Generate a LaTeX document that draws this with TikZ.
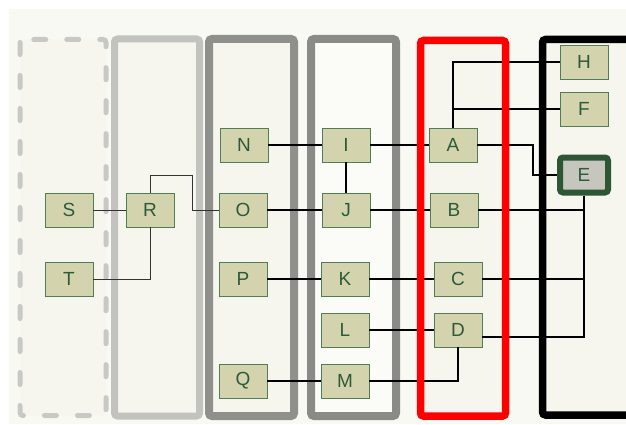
\documentclass[tikz,border=0pt]{standalone}
\usepackage{fontspec}
\setmainfont{Liberation Sans}
\usetikzlibrary{positioning,calc}
\definecolor{pageBg}{RGB}{249,249,244}
\definecolor{laneBg}{RGB}{246,245,238}
\definecolor{laneWhite}{RGB}{251,251,248}
\definecolor{laneA}{RGB}{200,200,196}
\definecolor{laneB}{RGB}{194,194,190}
\definecolor{laneC}{RGB}{143,143,139}
\definecolor{laneD}{RGB}{138,138,134}
\definecolor{boxFill}{RGB}{211,211,174}
\definecolor{boxLine}{RGB}{80,125,86}
\definecolor{boxText}{RGB}{46,90,58}
\definecolor{hubFill}{RGB}{198,198,190}
\definecolor{hubLine}{RGB}{44,86,52}
\tikzset{
  box/.style={draw=boxLine, fill=boxFill, line width=0.9pt, text=boxText,
    minimum width=48pt, minimum height=34pt, inner sep=0pt,
    font=\fontsize{19}{22}\selectfont},
  hub/.style={box, draw=hubLine, fill=hubFill, line width=6pt, rounded corners=3pt,
    minimum width=48pt, minimum height=35pt},
  thinwire/.style={line width=1pt, draw=black!80},
  wire/.style={line width=2.2pt, draw=black},
  lane/.style={fill=laneBg, rounded corners=3pt}
}

\begin{document}
\begin{tikzpicture}[x=1pt,y=-1pt]
    \useasboundingbox (0,0) rectangle (626,425);
    \fill[pageBg] (9,9) rectangle (626,424);
    % lanes
    \draw[lane, draw=laneA, line width=5pt, dash pattern=on 12pt off 21pt, line cap=round] (20,39.5) rectangle (106,415.5);
    \draw[lane, draw=laneB, line width=7pt] (114.5,39) rectangle (199.5,416);
    \draw[lane, draw=laneC, line width=8pt] (209,39) rectangle (294,416);
    \draw[lane, fill=laneWhite, draw=laneD, line width=8pt] (311,39) rectangle (396,416);
    \fill[laneBg, rounded corners=3pt] (420.5,40.5) rectangle (505.5,416);
    \draw[lane, draw=black, line width=7.5pt] (542.5,39.5) rectangle (640,415);

    % nodes
    \node[box] (S) at (69,210) {S};
    \node[box] (T) at (69,279) {T};
    \node[box] (R) at (150,210) {R};
    \node[box] (N) at (244,145) {N};
    \node[box] (O) at (243,210) {O};
    \node[box] (P) at (243,279) {P};
    \node[box] (Q) at (243,381) {Q};
    \node[box] (I) at (346,145) {I};
    \node[box] (J) at (346,210) {J};
    \node[box] (K) at (345,279) {K};
    \node[box] (L) at (345,330) {L};
    \node[box] (M) at (345,381) {M};
    \node[box] (A) at (453,145) {A};
    \node[box] (B) at (454,210) {B};
    \node[box] (C) at (458,279) {C};
    \node[box] (D) at (458,330) {D};
    \node[box] (H) at (584,62) {H};
    \node[box] (F) at (584,109) {F};
    \node[hub] (E) at (584,175) {E};

    \coordinate (ro) at (192,175);
    \coordinate (ae) at (533,175);

    % connectors
    \draw[thinwire] (S) -- (R);
    \draw[thinwire] (T.east) -| (R.south);
    \draw[thinwire] (R.north) |- (ro) |- (O.west);
    \draw[wire] (N) -- (I);
    \draw[wire] (O) -- (J);
    \draw[wire] (I) -- (J);
    \draw[wire] (I) -- (A);
    \draw[wire] (J) -- (B);
    \draw[wire] (P) -- (K);
    \draw[wire] (K) -- (C);
    \draw[wire] (L) -- (D);
    \draw[wire] (Q) -- (M);
    \draw[wire] (M.east) -| (D.south);
    \draw[wire] (A.north) |- (H.west);
    \draw[wire] (A.north) |- (F.west);
    \draw[wire] (A.east) -| (ae) -- (E.west);
    \draw[wire] (E.south) |- (B.east);
    \draw[wire] (E.south) |- (C.east);
    \draw[wire] (E.south) |- ([yshift=-7pt]D.east);

    % red lane on top of the wires
    \draw[red, line width=7.5pt, rounded corners=3pt] (420.5,40.5) rectangle (505.5,416);
  \end{tikzpicture}
\end{document}
